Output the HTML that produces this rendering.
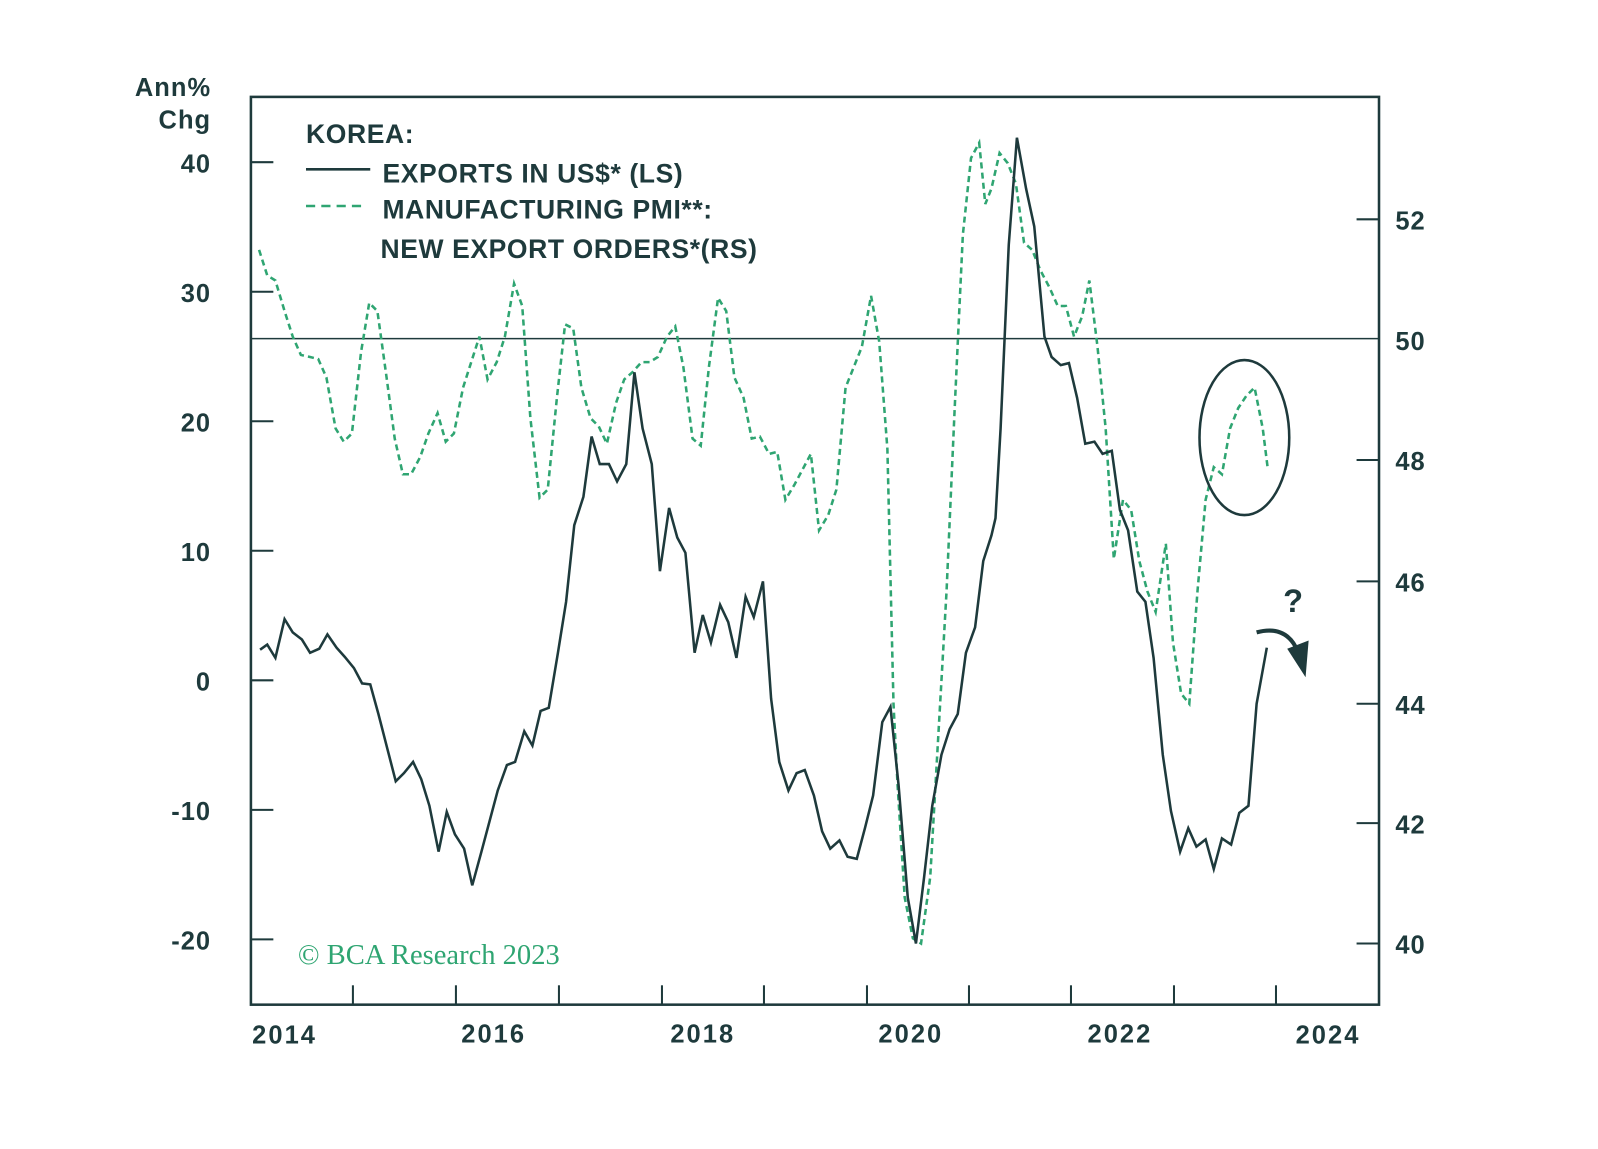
<!DOCTYPE html>
<html><head><meta charset="utf-8"><style>
html,body{margin:0;padding:0;background:#fff;}
svg text{font-family:"Liberation Sans",sans-serif;font-weight:bold;fill:#1e3a3c;}
</style></head><body>
<svg width="1598" height="1144" viewBox="0 0 1566.7 1121.6" preserveAspectRatio="none" xmlns="http://www.w3.org/2000/svg">
<rect x="246" y="95" width="1106" height="890" fill="none" stroke="#1e3a3c" stroke-width="2.5"/>
<line x1="246" y1="332" x2="1352" y2="332" stroke="#1e3a3c" stroke-width="1.5"/>
<g stroke="#1e3a3c" stroke-width="2">
<line x1="246" y1="159" x2="268" y2="159"/><line x1="246" y1="286" x2="268" y2="286"/><line x1="246" y1="413" x2="268" y2="413"/><line x1="246" y1="540" x2="268" y2="540"/><line x1="246" y1="667" x2="268" y2="667"/><line x1="246" y1="794" x2="268" y2="794"/><line x1="246" y1="921" x2="268" y2="921"/>
<line x1="1330" y1="215" x2="1352" y2="215"/><line x1="1330" y1="451" x2="1352" y2="451"/><line x1="1330" y1="570" x2="1352" y2="570"/><line x1="1330" y1="690" x2="1352" y2="690"/><line x1="1330" y1="807" x2="1352" y2="807"/><line x1="1330" y1="925" x2="1352" y2="925"/>
<line x1="346" y1="985" x2="346" y2="966"/><line x1="447" y1="985" x2="447" y2="966"/><line x1="548" y1="985" x2="548" y2="966"/><line x1="649" y1="985" x2="649" y2="966"/><line x1="749" y1="985" x2="749" y2="966"/><line x1="850" y1="985" x2="850" y2="966"/><line x1="950" y1="985" x2="950" y2="966"/><line x1="1050" y1="985" x2="1050" y2="966"/><line x1="1151" y1="985" x2="1151" y2="966"/><line x1="1251" y1="985" x2="1251" y2="966"/>
</g>
<g font-size="25" text-anchor="end" letter-spacing="1">
<text x="207" y="94">Ann%</text><text x="207" y="126">Chg</text>
<text x="207" y="169">40</text><text x="207" y="296">30</text><text x="207" y="423">20</text><text x="207" y="550">10</text><text x="207" y="677">0</text><text x="207" y="804">-10</text><text x="207" y="931">-20</text>
</g>
<g font-size="25" letter-spacing="1">
<text x="1368" y="225">52</text><text x="1368" y="343">50</text><text x="1368" y="461">48</text><text x="1368" y="580">46</text><text x="1368" y="700">44</text><text x="1368" y="817">42</text><text x="1368" y="935">40</text>
</g>
<g font-size="25" text-anchor="middle" letter-spacing="2">
<text x="279" y="1023">2014</text><text x="484" y="1022">2016</text><text x="689" y="1022">2018</text><text x="893" y="1022">2020</text><text x="1098" y="1022">2022</text><text x="1302" y="1023">2024</text>
</g>
<g font-size="26" letter-spacing="0.6">
<text x="300" y="140">KOREA:</text>
<text x="375" y="179">EXPORTS IN US$* (LS)</text>
<text x="375" y="214">MANUFACTURING PMI**:</text>
<text x="373" y="253">NEW EXPORT ORDERS*(RS)</text>
</g>
<line x1="300" y1="166" x2="363" y2="166" stroke="#1e3a3c" stroke-width="2.5"/>
<line x1="300" y1="202" x2="358" y2="202" stroke="#2fa572" stroke-width="2.5" stroke-dasharray="9,6"/>
<text x="292" y="945" font-size="28" style="font-family:'Liberation Serif',serif;font-weight:normal;fill:#2fa572">© BCA Research 2023</text>
<polyline fill="none" stroke="#2fa572" stroke-width="2.5" stroke-dasharray="6,4" points="254,245 262,270 270,275 279,305 287,330 295,348 304,350 312,352 320,370 329,420 337,433 345,425 354,345 362,297 370,305 379,370 387,430 395,465 403,465 412,448 420,425 429,405 437,433 445,425 454,380 462,355 470,330 478,372 487,355 495,330 504,278 512,300 520,410 529,488 537,480 546,390 554,318 562,322 570,380 579,410 587,418 595,435 604,395 612,372 620,365 629,355 637,355 645,350 654,330 662,320 670,360 679,430 687,437 695,360 704,292 712,305 720,370 729,390 737,430 745,428 754,445 762,443 770,490 779,475 787,460 795,445 803,520 812,505 820,480 829,380 837,360 845,340 854,290 862,335 870,440 876,690 880,770 887,880 895,920 903,925 912,860 920,720 928,580 936,400 944,230 952,155 960,140 966,200 972,185 980,150 988,160 996,180 1004,238 1012,245 1020,265 1029,282 1037,300 1045,300 1053,330 1061,310 1068,275 1076,340 1084,420 1092,548 1101,490 1109,500 1117,550 1125,580 1133,600 1143,533 1150,630 1158,680 1166,690 1174,580 1182,490 1190,458 1198,465 1206,420 1214,400 1222,388 1230,380 1238,420 1243,460"/>
<polyline fill="none" stroke="#1e3a3c" stroke-width="2.5" points="255,637 262,632 270,645 279,607 287,620 296,627 304,640 313,636 321,622 330,635 338,644 347,655 355,670 363,671 371,700 380,735 388,766 396,758 405,747 413,764 421,790 430,835 438,796 446,818 455,832 463,868 472,835 480,805 488,775 497,750 505,747 514,717 522,731 530,697 538,694 547,640 555,590 563,515 572,487 580,428 588,455 597,455 605,472 614,455 622,365 630,420 639,455 647,560 656,498 664,527 672,542 681,640 689,603 697,630 706,593 714,610 722,645 731,585 739,605 748,570 756,685 764,747 773,775 781,758 789,755 798,780 806,815 814,832 823,824 831,840 840,842 848,812 856,780 865,708 873,693 881,770 890,880 898,925 906,860 914,790 923,740 931,715 939,700 947,640 956,615 964,550 972,525 976,508 981,420 989,240 997,135 1006,185 1014,222 1024,330 1031,350 1040,358 1048,356 1056,390 1064,435 1073,433 1081,445 1090,442 1098,500 1106,520 1115,580 1123,590 1131,645 1140,740 1148,795 1157,835 1165,812 1173,830 1182,823 1190,852 1198,822 1207,828 1215,797 1224,790 1232,690 1242,635"/>
<ellipse cx="1220" cy="429" rx="44" ry="76" fill="none" stroke="#1e3a3c" stroke-width="2.5"/>
<text x="1258" y="600" font-size="32">?</text>
<path d="M1232,620 Q1262,612 1273,640" fill="none" stroke="#1e3a3c" stroke-width="4"/>
<polygon points="1262,636 1283,628 1280,664" fill="#1e3a3c"/>
</svg>
</body></html>
